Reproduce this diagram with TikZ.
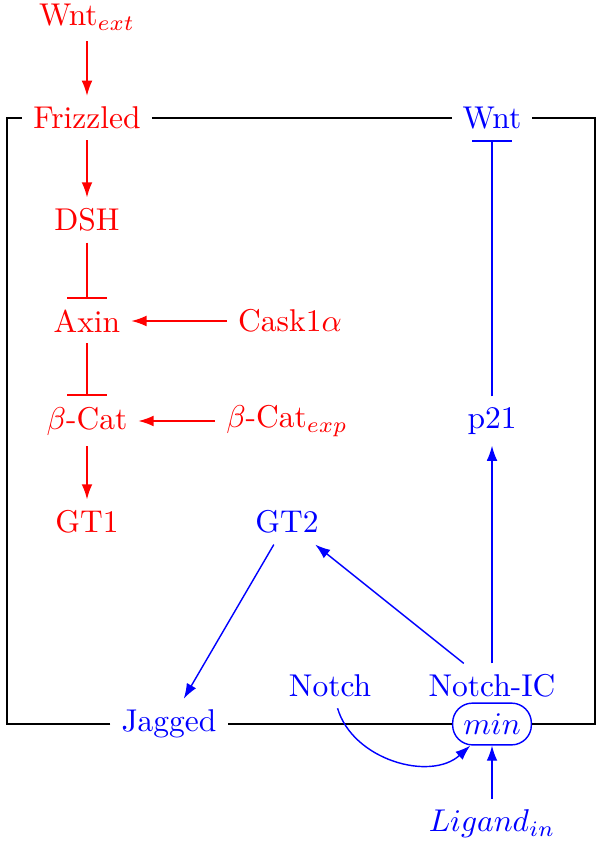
\documentclass[tikz,border=0pt]{standalone}
\usetikzlibrary{arrows.meta}
\tikzset{
  rnode/.style={text=red},
  bnode/.style={text=blue},
  ract/.style={draw=red,line width=0.45pt,-{Latex[length=4.8pt,width=3.4pt]}},
  bact/.style={draw=blue,line width=0.45pt,-{Latex[length=4.8pt,width=3.4pt]}},
  rinh/.style={draw=red,line width=0.45pt,-{Bar[width=12.4pt]}},
  binh/.style={draw=blue,line width=0.45pt,-{Bar[width=12.4pt]}},
  boxline/.style={draw=black,line width=0.65pt},
  minbox/.style={draw=blue,text=blue,line width=0.45pt,rounded corners=6.3pt,minimum height=12.7pt,minimum width=25pt}
}
\begin{document}
\begin{tikzpicture}[x=0.3175pt,y=-0.3175pt]
\useasboundingbox (0,0) rectangle (600,844);
% red column
\node[rnode] (wntext) at (87,17) {Wnt$_{ext}$};
\node[rnode] (frizzled) at (87,118) {Frizzled};
\node[rnode] (dsh) at (87,220) {DSH};
\node[rnode] (axin) at (87,321) {Axin};
\node[rnode] (bcat) at (87,421) {$\beta$-Cat};
\node[rnode] (gt1) at (87,522) {GT1};
\node[rnode] (cask) at (290,321) {Cask1$\alpha$};
\node[rnode] (bcatexp) at (287,421) {$\beta$-Cat$_{exp}$};
% blue nodes
\node[bnode] (wnt) at (492,118) {Wnt};
\node[bnode] (p21) at (492,421) {p21};
\node[bnode] (gt2) at (287,522) {GT2};
\node[bnode] (notch) at (330,686) {Notch};
\node[bnode] (notchic) at (492,686) {Notch-IC};
\node[minbox] (min) at (492,724) {$min$};
\node[bnode] (jagged) at (169,724) {Jagged};
\node[bnode] (ligand) at (492,824) {$Ligand_{in}$};
% box corners
\coordinate (tl) at (7,118);
\coordinate (tr) at (595,118);
\coordinate (br) at (595,724);
\coordinate (bl) at (7,724);
% black frame
\draw[boxline] (frizzled) -- (wnt);
\draw[boxline] (wnt) -- (tr) -- (br) -- (min);
\draw[boxline] (min) -- (jagged);
\draw[boxline] (jagged) -- (bl) -- (tl) -- (frizzled);
% red edges
\draw[ract] (wntext) -- (frizzled);
\draw[ract] (frizzled) -- (dsh);
\draw[rinh] (dsh) -- (axin);
\draw[rinh] (axin) -- (bcat);
\draw[ract] (bcat) -- (gt1);
\draw[ract] (cask) -- (axin);
\draw[ract] (bcatexp) -- (bcat);
% blue edges
\draw[binh] (p21) -- (wnt);
\draw[bact] (notchic) -- (p21);
\draw[bact] (notchic) -- (gt2);
\draw[bact] (gt2) -- (jagged);
\draw[bact] (notch) to[bend right=58] (min);
\draw[bact] (ligand) -- (min);
\end{tikzpicture}
\end{document}
